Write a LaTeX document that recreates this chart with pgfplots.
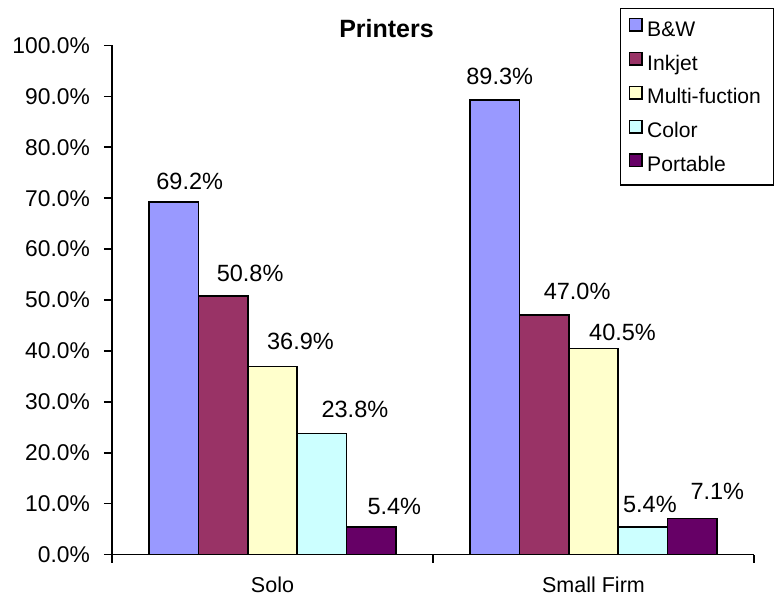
\documentclass[border=0pt]{standalone}
\usepackage{pgfplots}
\usepackage{pgfplotstable}
\pgfplotsset{compat=1.18}
\usepackage{fontspec}
\setmainfont{Liberation Sans}
\definecolor{cBW}{HTML}{9999FF}
\definecolor{cInk}{HTML}{993366}
\definecolor{cMulti}{HTML}{FFFFCC}
\definecolor{cColor}{HTML}{CCFFFF}
\definecolor{cPort}{HTML}{660066}

\pgfplotstableread{
x y dx dy
0 69.2 16 13
1 89.3 5 15
}\tBW
\pgfplotstableread{
x y dx dy
0 50.8 27 14
1 47.0 33 16
}\tInk
\pgfplotstableread{
x y dx dy
0 36.9 28 17
1 40.5 29 8
}\tMulti
\pgfplotstableread{
x y dx dy
0 23.8 33 16
1 5.4 7 15
}\tColor
\pgfplotstableread{
x y dx dy
0 5.4 23 13
1 7.1 25 19
}\tPort

\begin{document}
\begin{tikzpicture}
\useasboundingbox (-112pt,-42.5pt) rectangle (669pt,554.5pt);
\begin{axis}[
  at={(0,0)}, anchor=south west,
  scale only axis, width=642pt, height=509pt,
  ybar=0pt, bar width=49.4pt,
  xmin=-0.5, xmax=1.5, ymin=0, ymax=100,
  axis x line*=bottom, axis y line*=left,
  axis line style={-, line width=1.6pt},
  tick align=outside, major tick length=8pt,
  every tick/.style={black, line width=1.6pt},
  xtick={-0.5,0.5,1.5}, xticklabels={},
  extra x ticks={0,1}, extra x tick labels={Solo,Small Firm},
  extra x tick style={major tick length=0pt,
    xticklabel style={anchor=base, yshift=-37.5pt, inner sep=0pt, font=\fontsize{21.5}{25}\selectfont}},
  ytick={0,10,...,100},
  /pgf/number format/assume math mode=true,
  yticklabel={\pgfmathprintnumber[fixed,fixed zerofill,precision=1]{\tick}\%},
  yticklabel style={anchor=east, inner sep=0pt, xshift=-14pt, font=\fontsize{22.8}{27}\selectfont},
  title={Printers},
  title style={at={(0.4276,1.0049)}, anchor=base, inner sep=0pt, font=\fontsize{25}{30}\selectfont\bfseries},
  point meta=y,
  nodes near coords={\pgfmathprintnumber[fixed,fixed zerofill,precision=1]{\pgfplotspointmeta}\%},
  visualization depends on={\thisrow{dx} \as \dx},
  visualization depends on={\thisrow{dy} \as \dy},
  nodes near coords style={anchor=base, inner sep=0pt, xshift=\dx pt, yshift=\dy pt, font=\fontsize{23.5}{28}\selectfont, black},
  every axis plot/.append style={draw=black, line width=1.6pt},
  legend cell align=left,
  legend image code/.code={\draw[#1, draw=black, line width=1.5pt] (0.75pt,-0.5pt) rectangle (13.25pt,12pt);},
  legend style={at={(1.0312,1.0737)}, anchor=north east, draw=black, line width=1.2pt,
    font=\fontsize{21.1}{25}\selectfont, inner xsep=8pt, inner ysep=9.4pt, row sep=11.6pt,
    nodes={inner xsep=4.5pt, inner ysep=0pt, text height=15pt, text depth=4pt}},
]
\addplot[fill=cBW] table[x=x,y=y] {\tBW};
\addplot[fill=cInk] table[x=x,y=y] {\tInk};
\addplot[fill=cMulti] table[x=x,y=y] {\tMulti};
\addplot[fill=cColor] table[x=x,y=y] {\tColor};
\addplot[fill=cPort] table[x=x,y=y] {\tPort};
\legend{B\&W,Inkjet,Multi-fuction,Color,Portable}
\end{axis}
\end{tikzpicture}
\end{document}
